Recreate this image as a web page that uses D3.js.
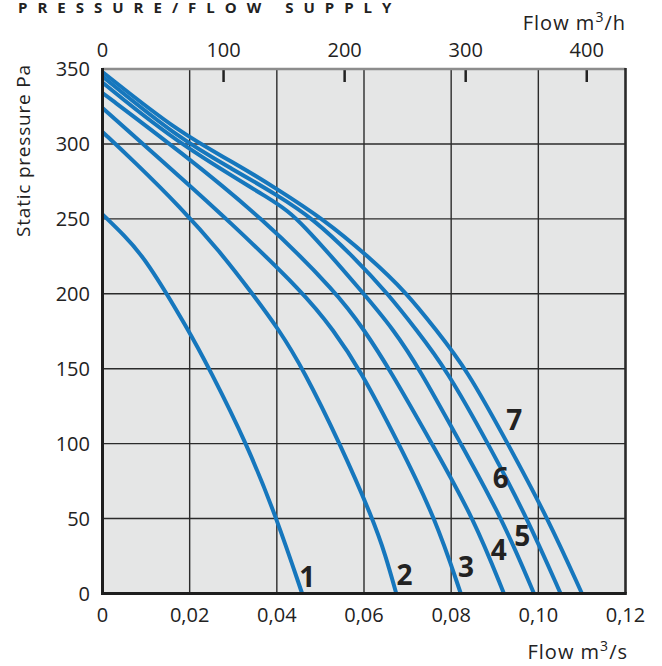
<!DOCTYPE html>
<html>
<head>
<meta charset="utf-8">
<script src="https://cdn.jsdelivr.net/npm/d3@7"></script>
<style>
  html, body { margin: 0; padding: 0; background: #ffffff; }
  svg { display: block; }
  text { font-family: "Open Sans", "DejaVu Sans", sans-serif; fill: #222; }
</style>
</head>
<body>
<svg id="chart" width="662" height="666"></svg>
<script>
// ---- data (flow m3/s, static pressure Pa) ----
const flowTicks = [0, 0.02, 0.04, 0.06, 0.08, 0.10, 0.12];
const flowTickLabels = ["0", "0,02", "0,04", "0,06", "0,08", "0,10", "0,12"];
const flowHourTicks = [0, 100, 200, 300, 400];
const pressureTicks = [0, 50, 100, 150, 200, 250, 300, 350];

const curve1 = [[0,253],[0.005,239],[0.010,223],[0.0197,176],[0.0245,150],[0.0331,100],[0.0400,50],[0.0458,0]];
const curve2 = [[0,308],[0.007,289],[0.0178,258],[0.027,228],[0.0344,200],[0.0405,176],[0.0460,150],[0.0545,100],[0.0620,50],[0.0650,25],[0.0674,0]];
const curve3 = [[0,324],[0.0178,278],[0.0285,250],[0.0464,200],[0.0529,176],[0.0590,150],[0.0680,100],[0.0764,50],[0.0822,0]];
const curve4 = [[0,334],[0.0178,295],[0.0369,250],[0.0540,200],[0.0600,176],[0.0658,150],[0.0756,100],[0.0852,50],[0.0921,0]];
const curve5 = [[0,341],[0.0178,299],[0.040,261],[0.0450,250],[0.0600,200],[0.0668,176],[0.0727,150],[0.0822,100],[0.0917,50],[0.099,0]];
const curve6 = [[0,345],[0.0178,303],[0.030,283],[0.040,266],[0.0484,250],[0.0575,225],[0.0655,200],[0.0720,176],[0.0788,150],[0.0885,100],[0.0975,50],[0.1051,0]];
const curve7 = [[0,348],[0.0178,307],[0.030,288],[0.040,270],[0.0506,250],[0.0610,225],[0.0700,200],[0.0765,176],[0.0835,150],[0.0930,100],[0.1022,50],[0.110,0]];
const curves = [curve1, curve2, curve3, curve4, curve5, curve6, curve7];

const curveLabels = ["1", "2", "3", "4", "5", "6", "7"];
const curveLabelFlow = [0.0470, 0.0693, 0.0834, 0.0909, 0.0963, 0.0914, 0.0945];
const curveLabelPressure = [4.3, 5.7, 11, 22.4, 31.7, 70.5, 109.2];

// ---- layout ----
const svg = d3.select("#chart");
const x = d3.scaleLinear().domain([0, 0.12]).range([102.5, 625.5]);
const xh = d3.scaleLinear().domain([0, 0.12 * 3600]).range([102.5, 625.5]);
const y = d3.scaleLinear().domain([0, 350]).range([593.5, 69]);

// background
svg.append("rect")
  .attr("x", x(0)).attr("y", y(350))
  .attr("width", x(0.12) - x(0)).attr("height", y(0) - y(350))
  .attr("fill", "#e5e6e6");

// grid
const grid = svg.append("g").attr("stroke", "#2b2b2b").attr("stroke-width", 1.4);
grid.selectAll("line.v").data(flowTicks.slice(1, -1)).join("line")
  .attr("x1", d => x(d)).attr("x2", d => x(d))
  .attr("y1", y(350)).attr("y2", y(0));
grid.selectAll("line.h").data(pressureTicks.slice(1, -1)).join("line")
  .attr("x1", x(0)).attr("x2", x(0.12))
  .attr("y1", d => y(d)).attr("y2", d => y(d));

// top ticks (m3/h)
svg.append("g").selectAll("line").data(flowHourTicks.slice(1)).join("line")
  .attr("x1", d => xh(d)).attr("x2", d => xh(d))
  .attr("y1", y(350)).attr("y2", y(350) + 13)
  .attr("stroke", "#222").attr("stroke-width", 2.5);

// frame
svg.append("line").attr("x1", x(0)).attr("x2", x(0.12)).attr("y1", y(350)).attr("y2", y(350))
  .attr("stroke", "#8c8c8c").attr("stroke-width", 2.5);
svg.append("line").attr("x1", x(0.12)).attr("x2", x(0.12)).attr("y1", y(350) - 1).attr("y2", y(0))
  .attr("stroke", "#2a2a2a").attr("stroke-width", 2.6);

// curves
const line = d3.line().x(d => x(d[0])).y(d => y(d[1])).curve(d3.curveBasis);
svg.append("g").selectAll("path").data(curves).join("path")
  .attr("d", line)
  .attr("fill", "none")
  .attr("stroke", "#1677bd")
  .attr("stroke-width", 4);

// left & bottom axes
svg.append("line").attr("x1", x(0)).attr("x2", x(0)).attr("y1", y(350) - 1).attr("y2", y(0) + 1.5)
  .attr("stroke", "#1e1e1e").attr("stroke-width", 3);
svg.append("line").attr("x1", x(0) - 1.5).attr("x2", x(0.12) + 1.3).attr("y1", y(0)).attr("y2", y(0))
  .attr("stroke", "#1e1e1e").attr("stroke-width", 3);

// tick labels
svg.append("g").selectAll("text").data(flowTicks).join("text")
  .attr("x", d => x(d)).attr("y", 622)
  .attr("text-anchor", "middle").attr("font-size", 20)
  .text((d, i) => flowTickLabels[i]);
svg.append("g").selectAll("text").data(flowHourTicks).join("text")
  .attr("x", d => xh(d)).attr("y", 57)
  .attr("text-anchor", "middle").attr("font-size", 20)
  .text(d => d);
svg.append("g").selectAll("text").data(pressureTicks).join("text")
  .attr("x", 90).attr("y", d => y(d) + 7)
  .attr("text-anchor", "end").attr("font-size", 20)
  .text(d => d);

// axis titles
const th = svg.append("text").attr("x", 626).attr("y", 30).attr("text-anchor", "end")
  .attr("font-size", 20).attr("letter-spacing", 1);
th.append("tspan").text("Flow m");
th.append("tspan").attr("dy", -8).attr("font-size", 14).text("3");
th.append("tspan").attr("dy", 8).text("/h");
const ts = svg.append("text").attr("x", 628).attr("y", 659).attr("text-anchor", "end")
  .attr("font-size", 20).attr("letter-spacing", 1);
ts.append("tspan").text("Flow m");
ts.append("tspan").attr("dy", -8).attr("font-size", 14).text("3");
ts.append("tspan").attr("dy", 8).text("/s");
svg.append("text")
  .attr("transform", "translate(30,151) rotate(-90)")
  .attr("text-anchor", "middle").attr("font-size", 19)
  .attr("textLength", 172).attr("lengthAdjust", "spacing")
  .text("Static pressure Pa");

// title
svg.append("text").attr("x", 18).attr("y", 12.5)
  .attr("font-size", 15).attr("font-weight", 700).attr("letter-spacing", 10)
  .text("PRESSURE/FLOW SUPPLY");

// curve labels
svg.append("g").selectAll("text").data(curveLabels).join("text")
  .attr("x", (d, i) => x(curveLabelFlow[i]))
  .attr("y", (d, i) => y(curveLabelPressure[i]))
  .attr("text-anchor", "middle")
  .attr("font-size", 28).attr("font-weight", 700)
  .text(d => d);
</script>
</body>
</html>
